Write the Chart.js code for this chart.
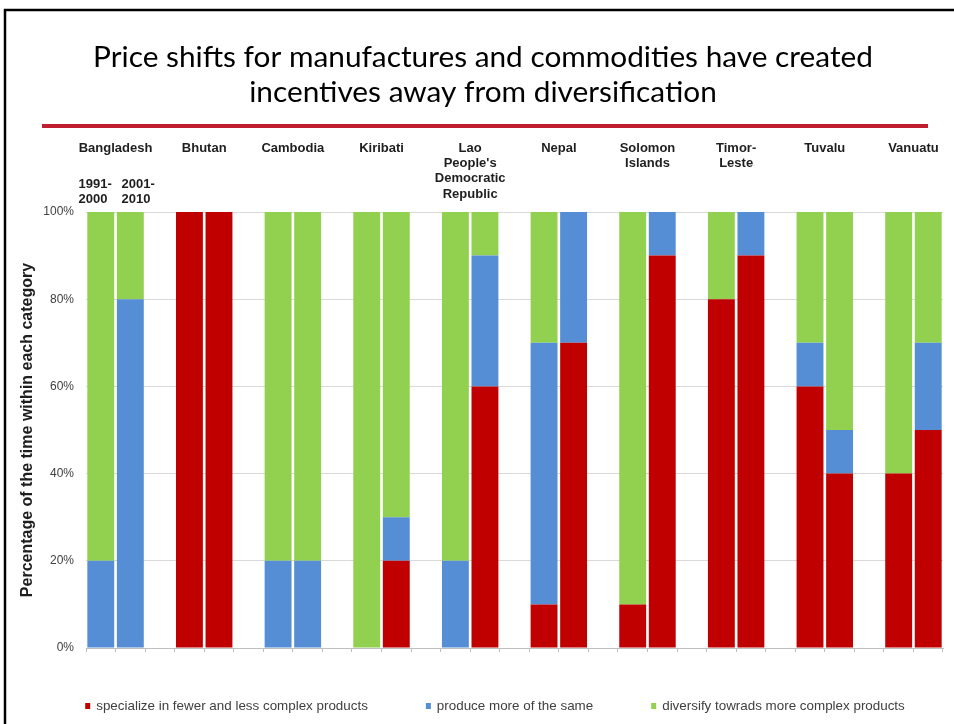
<!DOCTYPE html>
<html>
<head>
<meta charset="utf-8">
<title>Price shifts and diversification</title>
<script src="https://cdn.jsdelivr.net/npm/chart.js@4.4.1/dist/chart.umd.min.js"></script>
<style>
  html, body { margin: 0; padding: 0; background: #ffffff; overflow: hidden; }
  #wrap { width: 954px; height: 724px; position: relative; }
  canvas { display: block; }
</style>
</head>
<body>
<div id="wrap"><canvas id="chart" width="954" height="724"></canvas></div>
<script>
// ---- Data ----------------------------------------------------------------
const titleLines = [
  'Price shifts for manufactures and commodities have created',
  'incentives away from diversification'
];

// Country names, split into the lines they are printed on
const countries = [
  ['Bangladesh'], ['Bhutan'], ['Cambodia'], ['Kiribati'],
  ['Lao', "People's", 'Democratic', 'Republic'],
  ['Nepal'], ['Solomon', 'Islands'], ['Timor-', 'Leste'], ['Tuvalu'], ['Vanuatu']
];

// Two periods per country
const periods = [['1991-', '2000'], ['2001-', '2010']];

const seriesNames = [
  'specialize in fewer and less complex products',
  'produce more of the same',
  'diversify towrads more complex products'
];
const seriesColors = ['#C00000', '#558ED5', '#92D050'];

// Share of time (%) per country, period 1 then period 2
const specialize  = [0, 0,   100, 100,  0, 0,    0, 20,   0, 60,   10, 70,  10, 90,  80, 90,  60, 40,  40, 50];
const produceSame = [20, 80, 0, 0,      20, 20,  0, 10,   20, 30,  60, 30,  0, 10,   0, 10,   10, 10,  0, 20];
const diversify   = [80, 20, 0, 0,      80, 80,  100, 70, 80, 10,  30, 0,   90, 0,   20, 0,   30, 50,  60, 30];

const yTickValues = [0, 20, 40, 60, 80, 100];

// ---- Category layout: two bars per country, blank slot between countries --
const categoryLabels = [];
const slotIndex = [];            // data index for each slot, or -1 for a gap
countries.forEach((c, ci) => {
  periods.forEach((p, pi) => {
    categoryLabels.push(c.join(' ') + ' ' + p.join(''));
    slotIndex.push(ci * periods.length + pi);
  });
  if (ci < countries.length - 1) {
    categoryLabels.push('');
    slotIndex.push(-1);
  }
});
const spread = values => slotIndex.map(i => (i < 0 ? null : values[i]));

const FONT = '"Liberation Sans", Arial, sans-serif';
const LEGEND_CENTER_X = 495;
const LEGEND_Y = 706;
const LEGEND_GAP = 58;

// ---- Slide decoration, country headings and legend ------------------------
const slidePlugin = {
  id: 'slide',
  beforeDraw(chart) {
    const ctx = chart.ctx;
    ctx.save();
    ctx.fillStyle = '#ffffff';
    ctx.fillRect(0, 0, chart.width, chart.height);

    // slide frame
    ctx.strokeStyle = '#000000';
    ctx.lineWidth = 2.5;
    ctx.beginPath();
    ctx.moveTo(5, chart.height + 5);
    ctx.lineTo(5, 10);
    ctx.lineTo(chart.width + 5, 10);
    ctx.stroke();

    // title
    ctx.fillStyle = '#000000';
    ctx.font = '29.8px Lato, "Open Sans", sans-serif';
    ctx.textAlign = 'center';
    ctx.textBaseline = 'alphabetic';
    ctx.fillText(titleLines[0], 483, 67);
    ctx.fillText(titleLines[1], 483, 102);

    // rule under the title
    ctx.strokeStyle = '#BE1E2D';
    ctx.lineWidth = 4;
    ctx.beginPath();
    ctx.moveTo(42, 126);
    ctx.lineTo(928, 126);
    ctx.stroke();
    ctx.restore();
  },
  afterDraw(chart) {
    const ctx = chart.ctx;
    const x = chart.scales.x;
    ctx.save();

    // country headings centred over each pair of bars
    ctx.fillStyle = '#1e1e1e';
    ctx.font = 'bold 13px ' + FONT;
    ctx.textAlign = 'center';
    ctx.textBaseline = 'middle';
    countries.forEach((lines, ci) => {
      const first = ci * (periods.length + 1);
      const cx = (x.getPixelForValue(first) + x.getPixelForValue(first + 1)) / 2;
      lines.forEach((line, li) => ctx.fillText(line, cx, 148 + li * 15.4));
    });

    // period labels above the first country
    const cx0 = (x.getPixelForValue(0) + x.getPixelForValue(1)) / 2;
    ctx.textAlign = 'left';
    const periodX = [cx0 - 37, cx0 + 6];
    periods.forEach((lines, pi) => {
      lines.forEach((line, li) => ctx.fillText(line, periodX[pi], 184 + li * 15.4));
    });

    // legend
    ctx.font = '13.4px ' + FONT;
    ctx.textBaseline = 'middle';
    const items = chart.data.datasets.map(d => ({
      label: d.label, color: d.backgroundColor, w: 5 + 6 + ctx.measureText(d.label).width
    }));
    const total = items.reduce((s, it) => s + it.w, 0) + LEGEND_GAP * (items.length - 1);
    let lx = LEGEND_CENTER_X - total / 2;
    items.forEach(it => {
      ctx.fillStyle = it.color;
      ctx.fillRect(lx, LEGEND_Y - 3, 5, 6);
      ctx.fillStyle = '#404040';
      ctx.fillText(it.label, lx + 11, LEGEND_Y);
      lx += it.w + LEGEND_GAP;
    });
    ctx.restore();
  }
};

// ---- Chart ----------------------------------------------------------------
const datasets = [specialize, produceSame, diversify].map((vals, i) => ({
  label: seriesNames[i],
  data: spread(vals),
  backgroundColor: seriesColors[i],
  borderWidth: 0,
  barPercentage: 0.91,
  categoryPercentage: 1.0
}));

new Chart(document.getElementById('chart'), {
  type: 'bar',
  data: { labels: categoryLabels, datasets },
  plugins: [slidePlugin],
  options: {
    responsive: false,
    animation: false,
    devicePixelRatio: 1,
    layout: { padding: { left: 16, right: 11, top: 212, bottom: 72 } },
    plugins: {
      legend: { display: false },
      title: { display: false },
      tooltip: { enabled: false }
    },
    scales: {
      x: {
        stacked: true,
        grid: { display: true, drawOnChartArea: false, drawTicks: true, tickLength: 4, color: '#bfbfbf', offset: true },
        border: { display: true, color: '#bfbfbf', width: 1 },
        ticks: { display: false }
      },
      y: {
        stacked: true,
        min: 0,
        max: 100,
        afterBuildTicks: s => { s.ticks = yTickValues.map(v => ({ value: v })); },
        afterFit: s => { s.width = 70; },
        ticks: {
          callback: v => v + '%',
          padding: 12,
          color: '#404040',
          font: { family: FONT, size: 12 }
        },
        grid: { color: '#d9d9d9', drawTicks: false, lineWidth: 1 },
        border: { display: false },
        title: {
          display: true,
          text: 'Percentage of the time within each category',
          color: '#1e1e1e',
          font: { family: FONT, size: 16, weight: 'bold' },
          padding: { top: 2, bottom: 0 }
        }
      }
    }
  }
});
</script>
</body>
</html>
